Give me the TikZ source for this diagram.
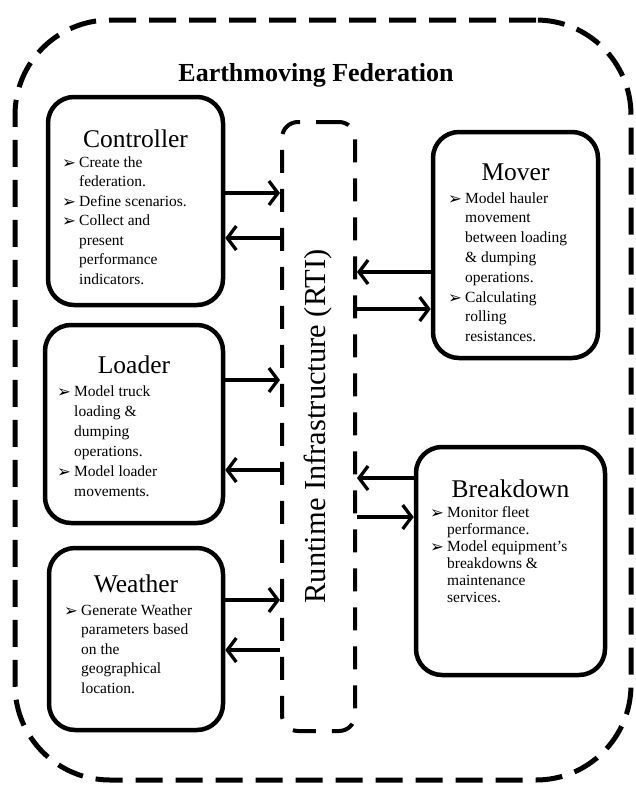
\documentclass[tikz,border=0pt]{standalone}
\usepackage{fontspec}
\setmainfont{Liberation Serif}
\newfontfamily\dingfont{DejaVu Sans}
\usetikzlibrary{arrows.meta}
\newcommand{\bul}{\makebox[17pt][l]{\smash{\raisebox{-1pt}{\dingfont\fontsize{16.5}{16.5}\selectfont ➢}}}}
\newcommand{\cnt}{\hspace*{17pt}}
\tikzset{
  fedbox/.style={draw, line width=5pt, dash pattern=on 27pt off 13pt, rounded corners=95pt, inner sep=0pt},
  rtibox/.style={draw, line width=4pt, dash pattern=on 23pt off 16pt, rounded corners=16pt, inner sep=0pt},
  modbox/.style={draw, line width=4.5pt, rounded corners=26pt, inner sep=0pt},
  modtitle/.style={font=\fontsize{25.5}{30}\selectfont, anchor=base, inner sep=0pt},
  modlist/.style={font=\fontsize{15.5}{#1}\selectfont, anchor=base west, inner sep=0pt},
  modlist/.default=19.5,
  flow/.style={line width=3.3pt, -{Straight Barb[length=9pt,width=24pt,line width=3.3pt]}}
}
\begin{document}
\begin{tikzpicture}[x=1pt,y=-1pt]
\useasboundingbox (0,0) rectangle (636,785);
\node[fedbox, minimum width=616pt, minimum height=760pt] (fed) at (323,400) {};
\node[font=\bfseries\fontsize{26}{30}\selectfont, anchor=base, inner sep=0pt] (fedtitle) at (316,81) {Earthmoving Federation};
\node[rtibox, minimum width=73pt, minimum height=609pt] (rti) at (318.5,426.5) {};
\node[rotate=90, font=\fontsize{30.5}{34}\selectfont, inner sep=0pt] (rtilabel) at (rti.center) {Runtime Infrastructure (RTI)};
% left federates
\node[modbox, minimum width=175pt, minimum height=208pt] (ctrl) at (135.5,201) {};
\node[modtitle] (ctrltitle) at (135.5,147) {Controller};
\node[modlist] (ctrllist) at (62,167) {\begin{tabular}[t]{@{}l@{}}
  \bul Create the\\ \cnt federation.\\ \bul Define scenarios.\\ \bul Collect and\\
  \cnt present\\ \cnt performance\\ \cnt indicators.\end{tabular}};
\node[modbox, minimum width=178pt, minimum height=198pt] (load) at (134,424) {};
\node[modtitle] (loadtitle) at (134,373) {Loader};
\node[modlist=20] (loadlist) at (57,396) {\begin{tabular}[t]{@{}l@{}}
  \bul Model truck\\ \cnt loading \&\\ \cnt dumping\\ \cnt operations.\\
  \bul Model loader\\ \cnt movements.\end{tabular}};
\node[modbox, minimum width=174pt, minimum height=182pt] (wthr) at (136,639) {};
\node[modtitle] (wthrtitle) at (136,592) {Weather};
\node[modlist=19.6] (wthrlist) at (64,615) {\begin{tabular}[t]{@{}l@{}}
  \bul Generate Weather\\ \cnt parameters based\\ \cnt on the\\ \cnt geographical\\
  \cnt location.\end{tabular}};
% right federates
\node[modbox, minimum width=165pt, minimum height=226pt] (mover) at (515.5,245) {};
\node[modtitle] (movertitle) at (515.5,180) {Mover};
\node[modlist=19.8] (moverlist) at (448,203) {\begin{tabular}[t]{@{}l@{}}
  \bul Model hauler\\ \cnt movement\\ \cnt between loading\\ \cnt \& dumping\\
  \cnt operations.\\ \bul Calculating\\ \cnt rolling\\ \cnt resistances.\end{tabular}};
\node[modbox, minimum width=189pt, minimum height=228pt] (brkd) at (510.5,561) {};
\node[modtitle] (brkdtitle) at (510.5,497) {Breakdown};
\node[modlist=17] (brkdlist) at (430,517) {\begin{tabular}[t]{@{}l@{}}
  \bul Monitor fleet\\ \cnt performance.\\ \bul Model equipment’s\\ \cnt breakdowns \&\\
  \cnt maintenance\\ \cnt services.\end{tabular}};
% interactions
\draw[flow] ([yshift=8pt]ctrl.east) -- ([yshift=8pt]ctrl.east -| rti.west);
\draw[flow] ([yshift=-37pt]ctrl.east -| rti.west) -- ([yshift=-37pt]ctrl.east);
\draw[flow] ([yshift=44pt]load.east) -- ([yshift=44pt]load.east -| rti.west);
\draw[flow] ([yshift=-46pt]load.east -| rti.west) -- ([yshift=-46pt]load.east);
\draw[flow] ([yshift=39pt]wthr.east) -- ([yshift=39pt]wthr.east -| rti.west);
\draw[flow] ([yshift=-11pt]wthr.east -| rti.west) -- ([yshift=-11pt]wthr.east);
\draw[flow] ([yshift=-27pt]mover.west) -- ([yshift=-27pt]mover.west -| rti.east);
\draw[flow] ([yshift=-64pt]mover.west -| rti.east) -- ([yshift=-64pt]mover.west);
\draw[flow] ([yshift=83pt]brkd.west) -- ([yshift=83pt]brkd.west -| rti.east);
\draw[flow] ([yshift=44pt]brkd.west -| rti.east) -- ([yshift=44pt]brkd.west);
\end{tikzpicture}
\end{document}
